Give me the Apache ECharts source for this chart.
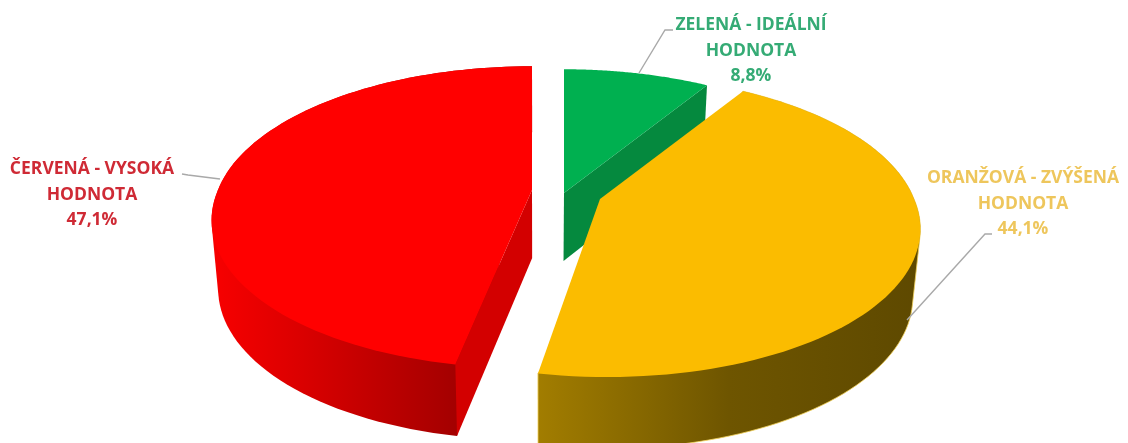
<!DOCTYPE html>
<html lang="cs">
<head>
<meta charset="utf-8">
<title>Hodnoty</title>
<style>
  html, body { margin: 0; padding: 0; background: #fff; }
  #chart { width: 1128px; height: 443px; }
</style>
<script src="https://cdn.jsdelivr.net/npm/echarts@6/dist/echarts.min.js"></script>
</head>
<body>
<div id="chart"></div>
<script>
// Podíly v procentech, po směru hodinových ručiček od horního bodu koláče
const categories = ['ZELENÁ - IDEÁLNÍ\nHODNOTA', 'ORANŽOVÁ - ZVÝŠENÁ\nHODNOTA', 'ČERVENÁ - VYSOKÁ\nHODNOTA'];
const shares = [8.8, 44.1, 47.1];

// Vzhled a rozložení jednotlivých výsečí
const sliceStyles = [
  {
    top: '#00B050', cut: '#05893E', wall: [[0, '#05893E'], [1, '#05893E']],
    centre: [564, 193], labelXY: [751, 51], labelColor: '#35AB75',
    leader: [[639, 73], [665, 30], [673, 30]]
  },
  {
    top: '#FBBC00', cut: null, wall: [[0, '#A27D00'], [0.5, '#6E5500'], [1, '#5E4900']],
    centre: [600, 199], labelXY: [1023, 204], labelColor: '#EEC65C',
    leader: [[907, 320], [985, 234], [992, 234]]
  },
  {
    top: '#FF0000', cut: '#D30000', wall: [[0, '#F80000'], [0.35, '#DC0000'], [1, '#A40000']],
    centre: [532, 190], labelXY: [92, 195], labelColor: '#CF2A35',
    leader: [[182, 174], [188, 175], [220, 179]]
  }
];

// Parametry šikmého pohledu na koláč
const VANISH_X = 567;
const RADIUS_X = 314;
const RADIUS_Y = 146;
const PERSPECTIVE = 0.18;
const DEPTH = 68;
const DEPTH_GROWTH = 0.02;
const BOTTOM_SHRINK = 0.02;
const BOTTOM_AXIS_X = 540;
const ARC_STEPS = 90;

// Bod na okraji horní plochy; úhel se měří od horního bodu po směru hodinových ručiček
function topPoint(centre, angle) {
  const u = Math.sin(angle);
  const v = -Math.cos(angle);
  const w = 1 - PERSPECTIVE * v;
  const offset = (centre[0] - VANISH_X) * (v > 0 ? 1 / w : 1);
  return [VANISH_X + offset + RADIUS_X * u / w, centre[1] + RADIUS_Y * v / w];
}

function bottomPoint(p, centre) {
  return [
    p[0] + (BOTTOM_AXIS_X - p[0]) * BOTTOM_SHRINK,
    p[1] + DEPTH + (p[1] - centre[1]) * DEPTH_GROWTH
  ];
}

// Konvexní obal: plášť je obrys spojující horní a dolní okraj včetně tečen po stranách
function convexHull(points) {
  const sorted = points.slice().sort((a, b) => a[0] - b[0] || a[1] - b[1]);
  const cross = (o, a, b) => (a[0] - o[0]) * (b[1] - o[1]) - (a[1] - o[1]) * (b[0] - o[0]);
  const chain = list => {
    const out = [];
    list.forEach(p => {
      while (out.length > 1 && cross(out[out.length - 2], out[out.length - 1], p) <= 0) out.pop();
      out.push(p);
    });
    out.pop();
    return out;
  };
  return chain(sorted).concat(chain(sorted.slice().reverse()));
}

function renderSlice(params, api) {
  const i = params.dataIndex;
  const style = sliceStyles[i];
  const total = shares.reduce((a, b) => a + b, 0);
  let before = 0;
  for (let k = 0; k < i; k++) before += shares[k];
  const start = before / total * Math.PI * 2;
  const end = start + api.value(0) / total * Math.PI * 2;

  const apex = style.centre;
  const arc = [];
  for (let s = 0; s <= ARC_STEPS; s++) {
    arc.push(topPoint(apex, start + (end - start) * s / ARC_STEPS));
  }
  const arcBottom = arc.map(p => bottomPoint(p, apex));
  const apexBottom = bottomPoint(apex, apex);
  const xs = arc.map(p => p[0]);
  const xMin = Math.min.apply(null, xs);
  const xMax = Math.max.apply(null, xs);
  const frontCorner = i === 1 ? arc[arc.length - 1] : arc[0];
  const children = [];

  // Vnější plášť výseče
  const gradient = new echarts.graphic.LinearGradient(
    i === 1 ? frontCorner[0] : xMin, 0,
    i === 1 ? xMax : frontCorner[0], 0,
    style.wall.map(s => ({ offset: s[0], color: s[1] })),
    true
  );
  children.push({
    type: 'polygon',
    shape: { points: convexHull(arc.concat(arcBottom)) },
    style: {
      fill: gradient,
      stroke: i === 1 ? '#F3D25A' : null,
      lineWidth: i === 1 ? 0.8 : 0
    }
  });

  // Řezná stěna obrácená k divákovi
  if (style.cut) {
    const corner = i === 0 ? arc[arc.length - 1] : arc[0];
    children.push({
      type: 'polygon',
      shape: { points: [apex, corner, bottomPoint(corner, apex), apexBottom] },
      style: { fill: style.cut }
    });
  }

  // Horní plocha
  children.push({
    type: 'polygon',
    shape: { points: [apex].concat(arc) },
    style: { fill: style.top }
  });

  // Odkazová čára a popisek
  children.push({
    type: 'polyline',
    shape: { points: style.leader },
    style: { stroke: '#A9A9A9', lineWidth: 1.4, fill: null }
  });
  children.push({
    type: 'text',
    x: style.labelXY[0],
    y: style.labelXY[1],
    style: {
      text: categories[i] + '\n' + api.value(0).toFixed(1).replace('.', ',') + '%',
      fill: style.labelColor,
      font: 'bold 17.5px "Open Sans"',
      lineHeight: 25.5,
      align: 'center',
      verticalAlign: 'middle'
    }
  });

  return { type: 'group', children: children };
}

const chart = echarts.init(document.getElementById('chart'), null, { renderer: 'canvas' });
chart.setOption({
  animation: false,
  backgroundColor: '#ffffff',
  tooltip: { show: false },
  series: [{
    type: 'custom',
    coordinateSystem: 'none',
    renderItem: renderSlice,
    data: shares.map(v => [v]),
    clip: false,
    silent: true
  }]
});
</script>
</body>
</html>
